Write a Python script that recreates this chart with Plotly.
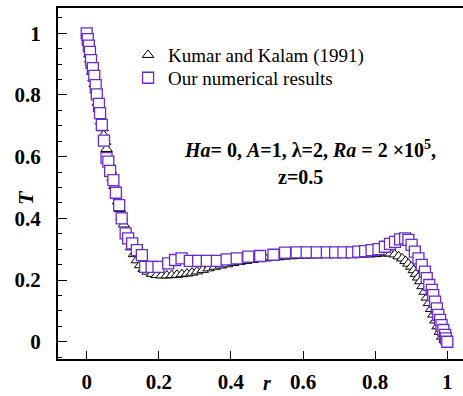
import plotly.graph_objects as go

# Kumar and Kalam (1991): radial temperature profile at z = 0.5
kumar_r = [0.000, 0.002, 0.004, 0.006, 0.008, 0.010, 0.013, 0.016, 0.019, 0.022,
           0.025, 0.028, 0.031, 0.034, 0.037, 0.040, 0.044, 0.047, 0.051, 0.055,
           0.059, 0.063, 0.067, 0.072, 0.077, 0.082, 0.087, 0.092, 0.097, 0.103,
           0.109, 0.116, 0.123, 0.131, 0.139, 0.148, 0.158, 0.169, 0.181, 0.194,
           0.208, 0.222, 0.236, 0.250, 0.264, 0.278, 0.292, 0.306, 0.322, 0.338,
           0.355, 0.372, 0.389, 0.406, 0.424, 0.442, 0.460, 0.478, 0.496, 0.514,
           0.532, 0.550, 0.568, 0.586, 0.604, 0.622, 0.640, 0.658, 0.676, 0.694,
           0.712, 0.730, 0.748, 0.766, 0.784, 0.800, 0.815, 0.829, 0.842, 0.854,
           0.865, 0.875, 0.884, 0.892, 0.900, 0.907, 0.913, 0.919, 0.925, 0.931,
           0.937, 0.943, 0.949, 0.955, 0.961, 0.967, 0.973, 0.979, 0.986, 0.993,
           1.000]
kumar_T = [1.000, 0.985, 0.968, 0.950, 0.932, 0.915, 0.895, 0.875, 0.855, 0.835,
           0.815, 0.795, 0.775, 0.755, 0.735, 0.714, 0.692, 0.670, 0.648, 0.625,
           0.602, 0.578, 0.555, 0.530, 0.505, 0.480, 0.455, 0.430, 0.405, 0.380,
           0.355, 0.330, 0.306, 0.284, 0.264, 0.248, 0.236, 0.227, 0.220, 0.216,
           0.215, 0.215, 0.216, 0.217, 0.219, 0.221, 0.224, 0.228, 0.233, 0.238,
           0.243, 0.247, 0.251, 0.255, 0.259, 0.262, 0.265, 0.268, 0.270, 0.272,
           0.274, 0.276, 0.277, 0.278, 0.279, 0.280, 0.280, 0.281, 0.281, 0.281,
           0.282, 0.282, 0.282, 0.283, 0.283, 0.284, 0.286, 0.287, 0.286, 0.283,
           0.277, 0.270, 0.262, 0.253, 0.243, 0.232, 0.220, 0.208, 0.196, 0.180,
           0.162, 0.143, 0.125, 0.106, 0.088, 0.069, 0.050, 0.032, 0.016, 0.006,
           0.000]

# Present computation: radial temperature profile at z = 0.5
ours_r = [0.000, 0.003, 0.006, 0.009, 0.012, 0.017, 0.021, 0.025, 0.028, 0.034,
          0.037, 0.042, 0.048, 0.055, 0.060, 0.065, 0.074, 0.081, 0.090, 0.097,
          0.108, 0.115, 0.126, 0.139, 0.153, 0.162, 0.180, 0.199, 0.226, 0.245,
          0.263, 0.286, 0.309, 0.333, 0.361, 0.388, 0.416, 0.448, 0.481, 0.518,
          0.550, 0.582, 0.610, 0.638, 0.666, 0.689, 0.712, 0.735, 0.753, 0.772,
          0.790, 0.809, 0.827, 0.841, 0.855, 0.869, 0.883, 0.892, 0.901, 0.910,
          0.920, 0.929, 0.938, 0.943, 0.950, 0.957, 0.961, 0.966, 0.971, 0.975,
          0.980, 0.984, 0.989, 0.994, 0.996, 1.000]
ours_T = [1.000, 0.981, 0.960, 0.940, 0.913, 0.887, 0.862, 0.832, 0.802, 0.771,
          0.741, 0.703, 0.652, 0.595, 0.584, 0.554, 0.524, 0.483, 0.443, 0.400,
          0.351, 0.335, 0.319, 0.297, 0.281, 0.243, 0.243, 0.243, 0.254, 0.265,
          0.270, 0.262, 0.262, 0.262, 0.262, 0.267, 0.270, 0.276, 0.278, 0.282,
          0.289, 0.290, 0.290, 0.290, 0.290, 0.290, 0.290, 0.290, 0.292, 0.294,
          0.297, 0.300, 0.308, 0.317, 0.324, 0.332, 0.335, 0.330, 0.314, 0.292,
          0.270, 0.249, 0.227, 0.206, 0.184, 0.168, 0.151, 0.130, 0.108, 0.087,
          0.071, 0.054, 0.038, 0.022, 0.011, 0.000]

x_ticks = [0, 0.2, 0.4, 0.6, 0.8, 1]
x_labels = ["0", "0.2", "0.4", "0.6", "0.8", "1"]
y_ticks = [0, 0.2, 0.4, 0.6, 0.8, 1]
y_labels = ["0", "0.2", "0.4", "0.6", "0.8", "1"]

SERIF = "Liberation Serif, Times New Roman, serif"
PURPLE = "#6B2AD0"

fig = go.Figure()

fig.add_trace(go.Scatter(
    x=kumar_r, y=kumar_T, mode="markers", name="Kumar and Kalam (1991)",
    legend="legend",
    marker=dict(symbol="triangle-up", size=10, color="white",
                line=dict(color="black", width=1)),
))
fig.add_trace(go.Scatter(
    x=ours_r, y=ours_T, mode="markers", name="Our numerical results",
    legend="legend2",
    marker=dict(symbol="square", size=11, color="white",
                line=dict(color=PURPLE, width=1.3)),
))

axis_common = dict(
    showgrid=False, zeroline=False, showline=True, linecolor="black",
    linewidth=2, ticks="inside", tickcolor="black", tickwidth=1,
    tickfont=dict(family=SERIF, size=21, color="black", weight="bold"),
)

fig.update_xaxes(
    range=[-0.0796, 1.0435], tickvals=x_ticks, ticktext=x_labels,
    ticklen=8, mirror=True, ticklabelstandoff=3, **axis_common,
)
fig.update_yaxes(
    range=[-0.056, 1.082], tickvals=y_ticks, ticktext=y_labels,
    ticklen=9, mirror=False, ticklabelstandoff=11,
    minor=dict(dtick=0.05, ticks="inside", ticklen=4, tickcolor="black", tickwidth=1),
    **axis_common,
)

# Axis titles
fig.add_annotation(
    x=0.5, xref="x", y=0, yref="paper", yanchor="bottom", yshift=-37,
    text="<b><i>r</i></b>", showarrow=False,
    font=dict(family=SERIF, size=20, color="black"),
)
fig.add_annotation(
    x=0, xref="paper", xanchor="center", xshift=-33,
    y=0.466, yref="y", text="<b><i>T</i></b>", textangle=-90, showarrow=False,
    font=dict(family=SERIF, size=22, color="black"),
)

# Parameter label (two lines)
fig.add_annotation(
    x=0.619, xref="x", y=0.624, yref="y",
    text="<b><i>Ha</i>= 0, <i>A</i>=1, λ=2, <i>Ra</i> = 2 ×10<sup>5</sup>,</b>",
    showarrow=False, font=dict(family=SERIF, size=20, color="black"),
)
fig.add_annotation(
    x=0.592, xref="x", y=0.533, yref="y",
    text="<b>z=0.5</b>",
    showarrow=False, font=dict(family=SERIF, size=20, color="black"),
)

legend_common = dict(
    xanchor="left", yanchor="top",
    bgcolor="rgba(0,0,0,0)", borderwidth=0,
    font=dict(family=SERIF, size=19, color="black"),
    itemwidth=30,
)

fig.update_layout(
    width=463, height=396,
    margin=dict(l=58, r=0, t=8, b=37),
    paper_bgcolor="white", plot_bgcolor="white",
    showlegend=True,
    legend=dict(x=0.173, y=0.920, **legend_common),
    legend2=dict(x=0.173, y=0.855, **legend_common),
)

fig.write_html("out.html")
